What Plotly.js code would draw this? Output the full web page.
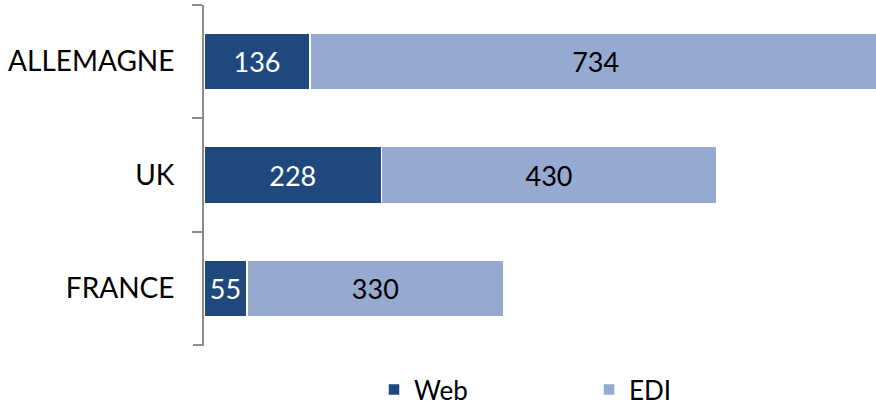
<!DOCTYPE html>
<html><head><meta charset="utf-8">
<script src="https://cdn.plot.ly/plotly-3.0.1.min.js"></script>
<style>html,body{margin:0;padding:0;background:#fff;}#c{width:876px;height:405px;}</style>
</head><body><div id="c"></div>
<script>
const categories = ['ALLEMAGNE', 'UK', 'FRANCE'];
const webValues = [136, 228, 55];
const ediValues = [734, 430, 330];
const seriesNames = ['Web', 'EDI'];

const FONT = 'Lato, "Open Sans", sans-serif';
const traces = [
  {type:'bar', orientation:'h', name:seriesNames[0], y:categories, x:webValues,
   text:webValues.map(String), textposition:'inside', insidetextanchor:'middle', constraintext:'none',
   textfont:{color:'#ffffff', size:27, family:FONT},
   marker:{color:'#1F497D', line:{color:'#ffffff', width:1.5}}, hoverinfo:'none'},
  {type:'bar', orientation:'h', name:seriesNames[1], y:categories, x:ediValues,
   text:ediValues.map(String), textposition:'inside', insidetextanchor:'middle', constraintext:'none',
   textfont:{color:'#000000', size:27, family:FONT},
   marker:{color:'#95A9D1', line:{color:'#ffffff', width:1.5}}, hoverinfo:'none'}
];
const layout = {
  width:876, height:405, barmode:'stack', bargap:0.5,
  margin:{l:204, r:0, t:5, b:60, autoexpand:false},
  paper_bgcolor:'#fff', plot_bgcolor:'#fff',
  font:{family:FONT, color:'#000'},
  showlegend:true,
  legend:{orientation:'h', x:0.253, xanchor:'left', y:-0.062, yanchor:'top',
          font:{size:26, family:FONT, color:'#000'}, entrywidth:170, traceorder:'normal'},
  xaxis:{range:[0,863], autorange:false, visible:false, fixedrange:true},
  yaxis:{categoryorder:'array', categoryarray:categories, autorange:'reversed',
         showline:true, linecolor:'#8c8c8c', linewidth:2,
         ticks:'outside', tickson:'boundaries', ticklen:10, tickcolor:'#8c8c8c', tickwidth:2,
         ticklabelstandoff:22, tickfont:{size:28, family:FONT, color:'#000'},
         showgrid:false, zeroline:false, fixedrange:true, automargin:false},
  shapes:[{type:'line', xref:'paper', yref:'paper', x0:-11/672, x1:0, y0:0, y1:0,
           line:{color:'#8c8c8c', width:2}}]
};
Plotly.newPlot('c', traces, layout, {displayModeBar:false, staticPlot:true});
</script></body></html>
